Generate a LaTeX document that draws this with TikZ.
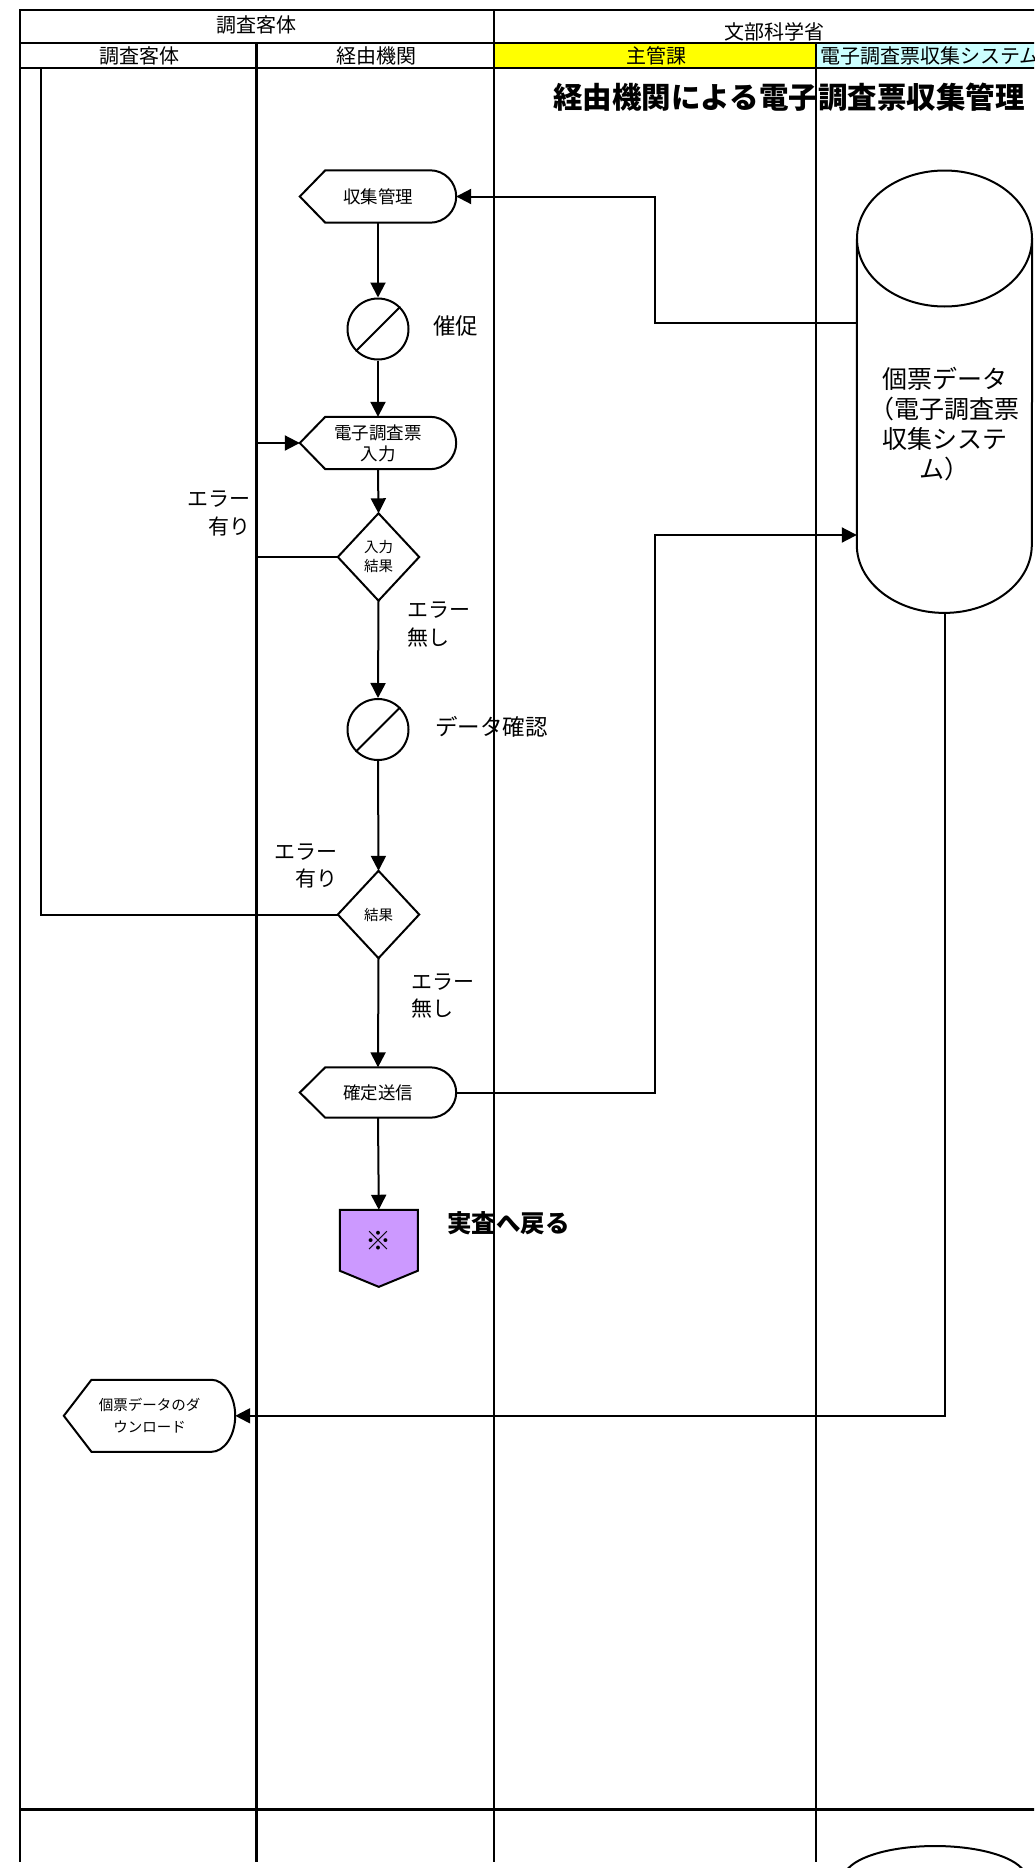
\documentclass[tikz,border=0pt]{standalone}
\usepackage{fontspec}
\setmainfont{Noto Sans CJK JP}
\usetikzlibrary{arrows.meta,calc}
\definecolor{boxpurple}{HTML}{CC99FF}
\definecolor{hdryellow}{HTML}{FFFF00}
\definecolor{hdrcyan}{HTML}{CCFFFF}
\tikzset{
  frame/.style={line width=2.5pt},
  conn/.style={line width=2pt},
  arr/.style={conn,-{Triangle[length=15pt,width=15pt]}},
  shapeline/.style={line width=2pt},
  hdr/.style={inner sep=0pt,font=\fontsize{20}{24}\selectfont},
  dispnode/.style={minimum width=156pt,minimum height=52pt,inner sep=0pt,align=center,font=\fontsize{17.5}{21}\selectfont},
  decnode/.style={minimum width=81pt,minimum height=87pt,inner sep=0pt,align=center,font=\fontsize{14.5}{19}\selectfont},
  procnode/.style={circle,draw,line width=2pt,minimum size=61pt,inner sep=0pt},
  lbl/.style={inner sep=0pt,font=\fontsize{21}{27.5}\selectfont},
  biglbl/.style={inner sep=0pt,font=\fontsize{22.5}{27.5}\selectfont},
}
\newcommand{\dispoutline}[3]{%
  \draw[shapeline,fill=white] (#1.west) -- ($(#1.north west)+(#2,0)$) -- ($(#1.north east)+(-#3,0)$)
    .. controls ($(#1.north east)+(-0.448*#3,0)$) and ($(#1.north east)!0.448!(#1.east)$) .. (#1.east)
    .. controls ($(#1.south east)!0.448!(#1.east)$) and ($(#1.south east)+(-0.448*#3,0)$) .. ($(#1.south east)+(-#3,0)$)
    -- ($(#1.south west)+(#2,0)$) -- cycle;}
\begin{document}
\begin{tikzpicture}[x=1pt,y=-1pt]
\useasboundingbox (0,0) rectangle (1034,1868);
\clip (0,0) rectangle (1034,1868);
% header fills
\fill[hdryellow] (494,43) rectangle (816,68);
\fill[hdrcyan] (816,43) rectangle (1040,68);
% frame
\draw[frame] (1040,10) -- (20,10) -- (20,1862);
\draw[frame] (20,43) -- (1040,43);
\draw[frame] (20,68) -- (1040,68);
\draw[frame] (256.5,43) -- (256.5,1862);
\draw[frame] (494,10) -- (494,1862);
\draw[frame] (816,43) -- (816,1862);
\draw[line width=3pt] (20,1809) -- (1040,1809);
% header texts
\node[hdr] (h1) at (256.7,25) {調査客体};
\node[hdr] (h2) at (774.5,32) {文部科学省};
\node[hdr] (h3) at (139,55.5) {調査客体};
\node[hdr] (h4) at (376,55.5) {経由機関};
\node[hdr] (h5) at (656,55.5) {主管課};
\node[hdr,anchor=west] (h6) at (820,55.5) {電子調査票収集システム};
% title
\node[inner sep=0pt,font=\bfseries\fontsize{29.5}{34}\selectfont] (title) at (789,97.5) {経由機関による電子調査票収集管理};
% flow nodes
\node[dispnode] (n1) at (378,196.5) {};
\dispoutline{n1}{25.5}{26}
\node[dispnode] (n1t) at (378,196.5) {収集管理};
\node[procnode] (c1) at (378,329) {};
\draw[shapeline] (c1.south west) -- (c1.north east);
\node[biglbl,anchor=west] (l1) at (433,326) {催促};
\node[dispnode] (n2) at (378,443) {};
\dispoutline{n2}{25.5}{26}
\node[dispnode] (n2t) at (378,443) {電子調査票\\入力};
\node[decnode] (d1) at (378.5,557) {入力\\結果};
\draw[shapeline] (d1.north) -- (d1.east) -- (d1.south) -- (d1.west) -- cycle;
\node[lbl,anchor=east,align=right] (l2) at (251,513.5) {エラー\\有り};
\node[lbl,anchor=west,align=left] (l3) at (407,624.5) {エラー\\無し};
\node[procnode] (c2) at (378,729.5) {};
\draw[shapeline] (c2.south west) -- (c2.north east);
\node[biglbl,anchor=west] (l4) at (435,727) {データ確認};
\node[decnode] (d2) at (378.5,914.5) {結果};
\draw[shapeline] (d2.north) -- (d2.east) -- (d2.south) -- (d2.west) -- cycle;
\node[lbl,anchor=east,align=right] (l5) at (338,866) {エラー\\有り};
\node[lbl,anchor=west,align=left] (l6) at (411,996) {エラー\\無し};
\node[dispnode,minimum height=50pt] (n3) at (378,1092.5) {};
\dispoutline{n3}{25.5}{26}
\node[dispnode] (n3t) at (378,1092.5) {確定送信};
\node[minimum width=77.7pt,minimum height=76.7pt,inner sep=0pt] (p1) at (378.8,1248.3) {};
\draw[shapeline,fill=boxpurple] (p1.north west) -- (p1.north east) -- ($(p1.north east)+(0,61)$) -- (p1.south) -- ($(p1.north west)+(0,61)$) -- cycle;
\node[inner sep=0pt,font=\fontsize{26}{30}\selectfont] (p1t) at (378.8,1240.7) {※};
\node[inner sep=0pt,anchor=west,font=\bfseries\fontsize{24.5}{28}\selectfont] (l7) at (447,1223.5) {実査へ戻る};
% cylinder
\node[minimum width=175pt,minimum height=442pt,inner sep=0pt] (db) at (944.5,391.7) {};
\draw[shapeline] ($(db.north west)+(0,68)$) -- ($(db.south west)+(0,-68)$) arc[start angle=180,end angle=360,x radius=87.5pt,y radius=68pt] -- ($(db.north east)+(0,68)$);
\draw[shapeline] ($(db.north)+(0,68)$) ellipse[x radius=87.5pt,y radius=68pt];
\node[inner sep=0pt,align=center,font=\fontsize{25}{30}\selectfont] (dbt) at (944.5,424) {個票データ\\（電子調査票\\収集システ\\ム）};
% download
\node[dispnode,minimum width=171pt,minimum height=71.7pt] (n4) at (149.5,1415.8) {};
\dispoutline{n4}{27.7}{24}
\node[dispnode,font=\fontsize{14.5}{21.5}\selectfont] (n4t) at (149.5,1415.8) {個票データのダ\\ウンロード};
% bottom partial cylinder
\draw[shapeline] (844,1878) arc[start angle=180,end angle=0,x radius=91pt,y radius=32pt];
% connectors
\coordinate (j1) at (655,323);
\coordinate (j2) at (256.5,557);
\coordinate (j3) at (40.5,68);
\coordinate (j4) at (655,535);
\draw[arr] (db.west |- j1) -- (j1) |- (n1.east);
\draw[arr] (n1.south) -- (c1.north);
\draw[arr] (c1.south) -- (n2.north);
\draw[arr] (n2.south) -- (d1.north);
\draw[arr] (d1.west) -- (j2) |- (n2.west);
\draw[arr] (d1.south) -- (c2.north);
\draw[arr] (c2.south) -- (d2.north);
\draw[conn] (d2.west) -| (j3);
\draw[arr] (d2.south) -- (n3.north);
\draw[arr] (n3.east) -| (j4) -- (db.west |- j4);
\draw[arr] (n3.south) -- (p1.north);
\draw[arr] (db.south) |- (n4.east);
\end{tikzpicture}
\end{document}
